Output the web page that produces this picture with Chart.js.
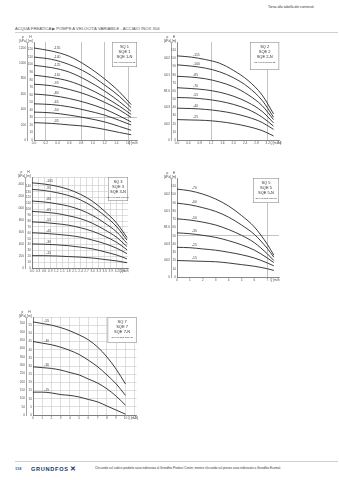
<!DOCTYPE html>
<html>
<head>
<meta charset="utf-8">
<script src="https://cdn.jsdelivr.net/npm/chart.js@4.4.1/dist/chart.umd.min.js"></script>
<style>
  html, body { margin: 0; padding: 0; background: #fff; }
  body { width: 339px; height: 480px; position: relative; overflow: hidden; font-family: "Liberation Sans", Arial, sans-serif; }
  .t { position: absolute; white-space: nowrap; }
  .rule { position: absolute; height: 0; border-top: 0.6px solid #d0d0d0; }
  canvas { position: absolute; }
</style>
</head>
<body>
<div class="t" style="left:268px;top:5px;font-size:3.4px;color:#333">Torna alla tabella dei contenuti</div>
<div class="t" style="left:15px;top:25.5px;font-size:4.2px;color:#555">ACQUA FREATICA ▶ POMPE A VELOCITÀ VARIABILE - ACCIAIO INOX 304</div>
<div class="rule" style="left:15px;top:32px;width:323px"></div>

<canvas id="sq1" width="119" height="113" style="left:19px;top:35px"></canvas>
<canvas id="sq2" width="119" height="113" style="left:164px;top:35px"></canvas>
<canvas id="sq3" width="111" height="106" style="left:18px;top:170px"></canvas>
<canvas id="sq5" width="116" height="114" style="left:164px;top:171px"></canvas>
<canvas id="sq7" width="119" height="113" style="left:19px;top:310px"></canvas>

<div class="rule" style="left:15px;top:461px;width:323px"></div>
<div class="t" style="left:15px;top:466px;font-size:4px;color:#2a5d9f;font-weight:bold">118</div>
<div class="t" style="left:31px;top:465px;font-size:5.6px;color:#14386b;font-weight:bold;letter-spacing:0.7px">GRUNDFOS<span style="font-size:6.5px;margin-left:1px">✕</span></div>
<div class="t" style="left:95px;top:466px;font-size:3px;color:#333">Cliccando sul codice prodotto sarai indirizzato al Grundfos Product Center, mentre cliccando sul prezzo sarai indirizzato a Grundfos Ecomal.</div>

<script>
// SQ 1
const q1 = [0, 0.3, 0.6, 0.9, 1.2, 1.45, 1.65];
const sq1Models = ['155', '140', '125', '110', '95', '80', '65', '50', '35'];
const sq1Head = [
  [122, 118, 111, 98, 81, 64, 47],
  [110, 107, 100, 89, 73, 58, 43],
  [99, 96, 90, 79, 65, 51, 38],
  [86, 83, 78, 69, 57, 45, 34],
  [74, 72, 67, 60, 50, 40, 30],
  [61, 59, 55, 49, 41, 32, 24],
  [48, 47, 44, 39, 33, 26, 20],
  [37, 36, 33, 29, 24, 18, 13],
  [23, 22, 20, 18, 14, 10, 7]
];

// SQ 2
const q2 = [0, 0.5, 1.0, 1.5, 2.0, 2.5, 3.0, 3.4];
const sq2Models = ['115', '100', '85', '70', '55', '40', '25'];
const sq2Head = [
  [103, 101.5, 98.5, 94, 85, 73, 55, 32],
  [92, 90.5, 88, 83.5, 76, 65, 48.5, 28],
  [78, 77, 75, 71, 65, 55.5, 42, 25],
  [64, 63, 61.5, 58.5, 53.5, 46, 35, 21],
  [52, 51.5, 50, 47.5, 43.5, 37.5, 28, 17],
  [39, 38.5, 37.5, 35.5, 32.5, 28, 21.5, 13],
  [25, 24.5, 24, 22.5, 20, 16.5, 11.5, 5]
];

// SQ 3
const q3 = [0, 0.6, 1.2, 1.8, 2.4, 3.0, 3.6, 4.2, 4.7];
const sq3Models = ['105', '95', '80', '65', '55', '40', '30', '15'];
const sq3Head = [
  [145, 143, 139.5, 134, 125.5, 113.5, 96.5, 76, 52],
  [134, 132, 128.5, 123.5, 116, 104.5, 89, 70, 47.5],
  [114, 112.5, 109.5, 105.5, 99, 89.5, 76.5, 61, 42],
  [96.5, 95, 93, 89, 84, 76, 65, 52, 36.5],
  [78.5, 77.5, 75.5, 73, 68.5, 62.5, 54, 43.5, 31],
  [60, 59, 57.5, 55.5, 52.5, 47.5, 41.5, 33.5, 24.5],
  [41, 40.5, 39.5, 38, 35.5, 32.5, 27.5, 22, 15.5],
  [21, 21, 20.5, 19.5, 18.5, 17, 14.5, 12, 9]
];

// SQ 5
const q5 = [0, 1, 2, 3, 4, 5, 6, 7, 7.5];
const sq5Models = ['70', '60', '50', '35', '25', '15'];
const sq5Head = [
  [106.5, 104.5, 100.5, 94.5, 86, 74.5, 60.5, 39.5, 26.5],
  [89.5, 87.5, 84, 79.5, 72.5, 63, 51.5, 34.5, 24],
  [70.5, 69, 66.5, 63, 57.5, 50.5, 41.5, 28, 20],
  [53.5, 52.5, 50.5, 48, 44, 39, 32.5, 23, 17.5],
  [36, 35.5, 34, 32.5, 30, 27, 23, 17, 13.5],
  [20, 19.5, 19, 18.5, 17, 15, 13, 10, 8]
];

// SQ 7
const q7 = [0, 1, 2, 3, 4, 5, 6, 7, 8, 9, 10];
const sq7Models = ['55', '40', '30', '15'];
const sq7Head = [
  [57, 56, 55, 53.5, 51.5, 49, 46, 41.5, 35.5, 28, 19],
  [45, 44, 43, 41.5, 39.5, 37, 33.5, 29.5, 24.5, 19, 12],
  [29.5, 29, 28.5, 27.5, 26, 24.5, 22, 19.5, 16, 11.5, 6],
  [14, 14, 13.5, 12.5, 12, 11, 9.5, 8, 5.5, 3, 0.5]
];

const FONT = '"Liberation Sans", Arial, sans-serif';

// curve labels, axis units and the model box
const deco = {
  id: 'deco',
  afterDraw(chart, args, o) {
    const { ctx, chartArea: a, scales } = chart;
    ctx.save();
    ctx.fillStyle = '#444';
    ctx.font = `3.4px ${FONT}`;
    ctx.textBaseline = 'bottom';
    chart.data.datasets.forEach((ds, i) => {
      const p = chart.getDatasetMeta(i).data[o.labelIdx];
      ctx.fillText('-' + ds.label, p.x + 2, p.y - 0.8);
    });

    ctx.textAlign = 'center';
    ctx.textBaseline = 'alphabetic';
    ctx.font = `3.2px ${FONT}`;
    const k = scales.kpa, h = scales.y;
    ctx.fillText('p', (k.left + k.right) / 2, a.top - 3.6);
    ctx.fillText('[kPa]', (k.left + k.right) / 2, a.top + 0.2);
    ctx.fillText('H', (h.left + h.right) / 2, a.top - 3.6);
    ctx.fillText('[m]', (h.left + h.right) / 2, a.top + 0.2);

    ctx.textAlign = 'right';
    ctx.textBaseline = 'top';
    ctx.font = `2.9px ${FONT}`;
    ctx.fillText('Q [m³/h]', a.right + 1.5, scales.x.top + 1.6);

    const bx = a.right - o.bw, by = a.top;
    ctx.fillStyle = '#fff';
    ctx.fillRect(bx, by, o.bw, o.bh);
    ctx.strokeStyle = '#8c8c8c';
    ctx.lineWidth = 0.6;
    ctx.strokeRect(bx + 0.3, by + 0.3, o.bw - 0.6, o.bh - 0.6);
    ctx.fillStyle = '#333';
    ctx.textAlign = 'center';
    ctx.textBaseline = 'alphabetic';
    ctx.font = `4px ${FONT}`;
    o.box.forEach((t, j) => ctx.fillText(t, bx + o.bw / 2, by + 6 + j * 5));
    ctx.font = `1.9px ${FONT}`;
    ctx.fillText('ISO 9906:2012 Grade 3B', bx + o.bw / 2, by + 20.5);
    ctx.restore();
  }
};

function pumpChart(id, q, heads, models, s) {
  const gridOn = (list, v) => list === 'all' || list.some(g => Math.abs(g - v) < 1e-6);
  const datasets = heads.map((h, i) => ({
    label: models[i],
    data: q.map((x, j) => ({ x, y: h[j] })),
    xAxisID: 'x',
    yAxisID: 'y',
    borderColor: '#262626',
    borderWidth: 0.9,
    pointRadius: 0,
    fill: false,
    cubicInterpolationMode: 'monotone'
  }));
  const tickFont = { family: FONT, size: 3.2 };
  return new Chart(document.getElementById(id), {
    type: 'line',
    data: { datasets },
    plugins: [deco],
    options: {
      responsive: false,
      animation: false,
      devicePixelRatio: 1,
      layout: { padding: { top: 7, right: 1, left: 0, bottom: 0 } },
      plugins: { legend: { display: false }, tooltip: { enabled: false }, deco: s },
      scales: {
        kpa: {
          position: 'left', weight: 1, min: 0, max: s.hMax * 9.81,
          afterFit: sc => { sc.width = s.kw; },
          grid: { drawOnChartArea: false, drawTicks: false },
          border: { color: '#666', width: 0.6 },
          ticks: { stepSize: s.kStep, autoSkip: false, padding: 1, color: '#555', font: tickFont,
            callback: v => v > s.kHide ? '' : String(v) }
        },
        y: {
          position: 'left', weight: 0, min: 0, max: s.hMax,
          afterFit: sc => { sc.width = s.hw; },
          grid: { drawTicks: false, lineWidth: 0.6,
            color: c => (c.tick && gridOn(s.gridH, c.tick.value)) ? s.gridColor : 'rgba(0,0,0,0)' },
          border: { color: '#555', width: 0.7 },
          ticks: { stepSize: s.hStep, autoSkip: false, padding: 1, color: '#555', font: tickFont,
            callback: v => v > s.hHide ? '' : String(v) }
        },
        x: {
          type: 'linear', min: 0, max: s.qMax,
          afterFit: sc => { sc.height = 8; },
          grid: { drawTicks: false, lineWidth: 0.6,
            color: c => (c.tick && gridOn(s.gridQ, c.tick.value)) ? s.gridColor : 'rgba(0,0,0,0)' },
          border: { color: '#555', width: 0.7 },
          ticks: { stepSize: s.qStep, includeBounds: false, autoSkip: false, maxRotation: 0, padding: 1.6,
            color: '#555', font: tickFont, callback: v => v.toFixed(s.dec) }
        }
      }
    }
  });
}

pumpChart('sq1', q1, sq1Head, sq1Models, {
  hMax: 130, hStep: 10, hHide: 125, kStep: 200, kHide: 1260, kw: 8, hw: 7,
  qMax: 1.75, qStep: 0.2, dec: 1, gridQ: [0.2, 0.8, 1.2, 1.6], gridH: [30], gridColor: '#9a9a9a',
  labelIdx: 1, bw: 25, bh: 25, box: ['SQ 1', 'SQE 1', 'SQE 1-N']
});
pumpChart('sq2', q2, sq2Head, sq2Models, {
  hMax: 120, hStep: 10, hHide: 115, kStep: 200, kHide: 1150, kw: 7, hw: 6,
  qMax: 3.6, qStep: 0.4, dec: 1, gridQ: [1.2, 3.2], gridH: [], gridColor: '#9a9a9a',
  labelIdx: 1, bw: 29, bh: 28, box: ['SQ 2', 'SQE 2', 'SQE 2-N']
});
pumpChart('sq3', q3, sq3Head, sq3Models, {
  hMax: 155, hStep: 10, hHide: 145, kStep: 200, kHide: 1500, kw: 7, hw: 7,
  qMax: 4.75, qStep: 0.3, dec: 1, gridQ: 'all', gridH: 'all', gridColor: '#c8c8c8',
  labelIdx: 1, bw: 20, bh: 24, box: ['SQ 3', 'SQE 3', 'SQE 3-N']
});
pumpChart('sq5', q5, sq5Head, sq5Models, {
  hMax: 120, hStep: 10, hHide: 115, kStep: 200, kHide: 1150, kw: 7, hw: 6,
  qMax: 7.9, qStep: 1, dec: 0, gridQ: [7], gridH: [50], gridColor: '#9a9a9a',
  labelIdx: 1, bw: 26, bh: 25, box: ['SQ 5', 'SQE 5', 'SQE 5-N']
});
pumpChart('sq7', q7, sq7Head, sq7Models, {
  hMax: 60, hStep: 5, hHide: 57, kStep: 50, kHide: 570, kw: 7, hw: 7,
  qMax: 11.2, qStep: 1, dec: 0, gridQ: 'all', gridH: 'all', gridColor: '#c8c8c8',
  labelIdx: 1, bw: 29, bh: 26, box: ['SQ 7', 'SQE 7', 'SQE 7-N']
});
</script>
</body>
</html>
